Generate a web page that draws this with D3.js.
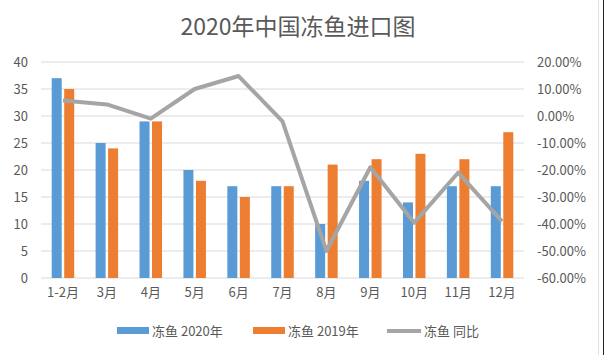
<!DOCTYPE html>
<html><head><meta charset="utf-8">
<script src="https://cdn.jsdelivr.net/npm/d3@7"></script>
<style>body{margin:0;background:#fff}svg{display:block}</style>
</head><body>
<script>
const categories = ["1-2月","3月","4月","5月","6月","7月","8月","9月","10月","11月","12月"];
const values2020 = [37,25,29,20,17,17,10,18,14,17,17];
const values2019 = [35,24,29,18,15,17,21,22,23,22,27];
const yoy = [5.7,4.3,-1.0,10.0,14.8,-2.0,-50.0,-19.0,-39.5,-21.0,-39.0];
const leftTicks = [0,5,10,15,20,25,30,35,40];
const rightTicks = [-60,-50,-40,-30,-20,-10,0,10,20];
const seriesNames = ["冻鱼 2020年","冻鱼 2019年","冻鱼 同比"];
const colors = ["#5b9bd5","#ed7d31","#a5a5a5"];

const W=604,H=355;
const svg=d3.select("body").append("svg").attr("width",W).attr("height",H);
const font="'Noto Sans CJK SC','Microsoft YaHei',sans-serif";
const txt="#595959";

const x=d3.scaleBand().domain(categories).range([41,524]);
const y=d3.scaleLinear().domain([0,40]).range([278,62]);
const y2=d3.scaleLinear().domain([-60,20]).range([278,62]);

// gridlines
svg.append("g").selectAll("line").data(leftTicks).join("line")
  .attr("x1",41).attr("x2",524).attr("y1",d=>y(d)).attr("y2",d=>y(d))
  .attr("stroke","#d9d9d9").attr("stroke-width",1);

// left axis
const la=svg.append("g").attr("transform","translate(28,0)")
  .call(d3.axisLeft(y).tickValues(leftTicks).tickSize(0).tickPadding(0));
la.select(".domain").remove();
la.selectAll("text").attr("font-family",font).attr("font-size",13).attr("fill",txt);

// right axis
const ra=svg.append("g").attr("transform","translate(537,0)")
  .call(d3.axisRight(y2).tickValues(rightTicks).tickSize(0).tickPadding(0).tickFormat(d=>d.toFixed(2)+"%"));
ra.select(".domain").remove();
ra.selectAll("text").attr("font-family",font).attr("font-size",13).attr("fill",txt);

// x axis labels
const xa=svg.append("g").attr("transform","translate(0,288)")
  .call(d3.axisBottom(x).tickSize(0).tickPadding(0));
xa.select(".domain").remove();
xa.selectAll("text").attr("font-family",font).attr("font-size",13).attr("fill",txt);

// bars
const bw=10, gap=2.5;
svg.append("g").selectAll("rect").data(values2020).join("rect")
  .attr("x",(d,i)=>x(categories[i])+x.bandwidth()/2-gap/2-bw)
  .attr("width",bw).attr("y",d=>y(d)).attr("height",d=>y(0)-y(d)).attr("fill",colors[0]);
svg.append("g").selectAll("rect").data(values2019).join("rect")
  .attr("x",(d,i)=>x(categories[i])+x.bandwidth()/2+gap/2)
  .attr("width",bw).attr("y",d=>y(d)).attr("height",d=>y(0)-y(d)).attr("fill",colors[1]);

// line
const line=d3.line().x((d,i)=>x(categories[i])+x.bandwidth()/2).y(d=>y2(d));
svg.append("path").datum(yoy).attr("d",line).attr("fill","none")
  .attr("stroke",colors[2]).attr("stroke-width",4).attr("stroke-linejoin","round");

// title
svg.append("text").attr("x",298).attr("y",35).attr("text-anchor","middle")
  .attr("font-family",font).attr("font-size",23).attr("fill",txt).text("2020年中国冻鱼进口图");

// legend
const lg=svg.append("g");
const lx=[117,253,387];
lg.append("rect").attr("x",lx[0]).attr("y",327).attr("width",32).attr("height",7).attr("fill",colors[0]);
lg.append("rect").attr("x",lx[1]).attr("y",327).attr("width",32).attr("height",7).attr("fill",colors[1]);
lg.append("line").attr("x1",lx[2]).attr("x2",lx[2]+34).attr("y1",331).attr("y2",331).attr("stroke",colors[2]).attr("stroke-width",4);
const tx=[152,288,424];
seriesNames.forEach((n,i)=>{
  lg.append("text").attr("x",tx[i]).attr("y",336).attr("font-family",font).attr("font-size",13).attr("fill",txt).text(n);
});

// right edge artifact
svg.append("line").attr("x1",598.5).attr("x2",598.5).attr("y1",0).attr("y2",H).attr("stroke","#e0e0e0");
svg.append("line").attr("x1",603.5).attr("x2",603.5).attr("y1",0).attr("y2",H).attr("stroke","#222");
</script>
</body></html>
